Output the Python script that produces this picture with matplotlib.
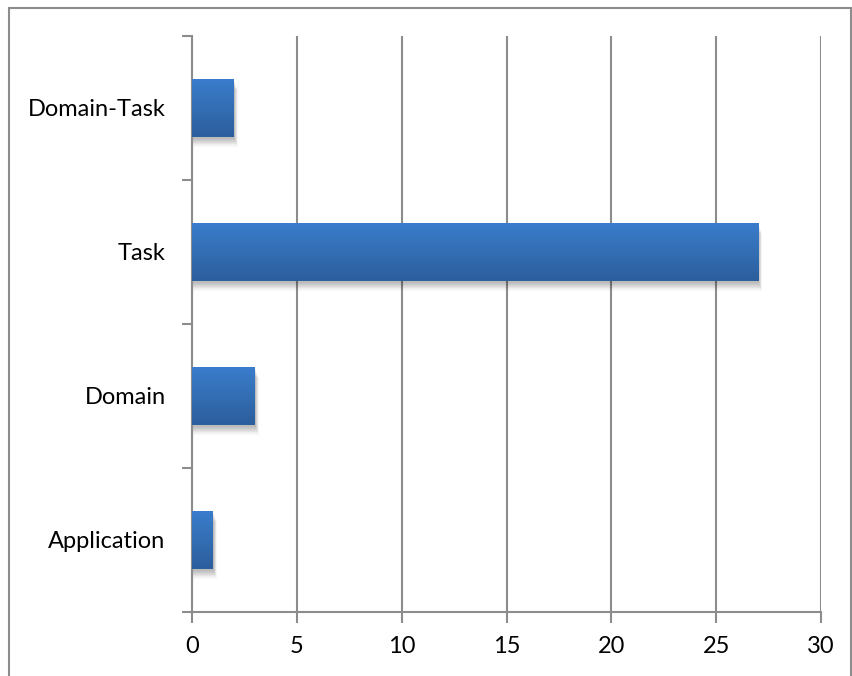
import matplotlib
matplotlib.use("Agg")
import matplotlib.pyplot as plt
import numpy as np
from matplotlib.patches import Rectangle
from matplotlib.colors import LinearSegmentedColormap

categories = ["Application", "Domain", "Task", "Domain-Task"]
values = [1, 3, 27, 2]
x_ticks = [0, 5, 10, 15, 20, 25, 30]

plt.rcParams['font.family'] = ['Lato', 'DejaVu Sans']

W, H = 852, 676
fig = plt.figure(figsize=(W / 100, H / 100), dpi=100)
fig.patches.append(Rectangle((8.5 / W, -0.01), (W - 9.5) / W, (H - 7.5) / H + 0.01,
                             transform=fig.transFigure, fill=False,
                             edgecolor="#8c8c8c", linewidth=1.5))

ax = fig.add_axes([192 / W, 1 - 612 / H, (821 - 192) / W, (612 - 36) / H])
ypos = np.arange(len(categories))
bar_h = 0.4
ax.set_xlim(0, 30)
ax.set_ylim(-0.5, len(categories) - 0.5)

cmap = LinearSegmentedColormap.from_list("g", ["#2c5e9c", "#3a7dcc"])
grad = np.linspace(0, 1, 256).reshape(-1, 1)

bars = ax.barh(ypos, values, height=bar_h, facecolor="none", edgecolor="none", zorder=3)
for b in bars:
    x0, y0 = b.get_x(), b.get_y()
    w, h = b.get_width(), b.get_height()
    # soft shadow
    n = 8
    for k in range(n):
        off_x = 0.03 + 0.022 * k
        off_y = 0.012 + 0.008 * k
        ax.add_patch(Rectangle((x0 + 0.02, y0 - off_y), w + off_x - 0.02, h,
                               facecolor="black", alpha=0.035, edgecolor="none", zorder=2))
    im = ax.imshow(grad, cmap=cmap, aspect="auto", extent=(x0, x0 + w, y0, y0 + h),
                   origin="lower", zorder=3, interpolation="bilinear")
    im.set_clip_path(b)
ax.set_xlim(0, 30)
ax.set_ylim(-0.5, len(categories) - 0.5)

ax.set_xticks(x_ticks)
ax.set_xticklabels([str(t) for t in x_ticks])
ax.grid(axis="x", color="#8c8c8c", linewidth=1.5, zorder=1)
ax.set_axisbelow(True)

ax.set_yticks(np.arange(-0.5, len(categories)), minor=False)
ax.set_yticklabels([])
ax.set_yticks(ypos, minor=True)
ax.set_yticklabels(categories, minor=True)
ax.tick_params(axis="y", which="major", length=7, width=1.5, color="#8c8c8c", direction="out")
ax.tick_params(axis="y", which="minor", length=0, pad=19, labelsize=17)
ax.tick_params(axis="x", length=8, width=1.5, color="#8c8c8c", direction="out", pad=9, labelsize=17)

for s in ["top", "right"]:
    ax.spines[s].set_visible(False)
for s in ["left", "bottom"]:
    ax.spines[s].set_color("#8c8c8c")
    ax.spines[s].set_linewidth(1.5)

fig.savefig("out.png", dpi=100)
